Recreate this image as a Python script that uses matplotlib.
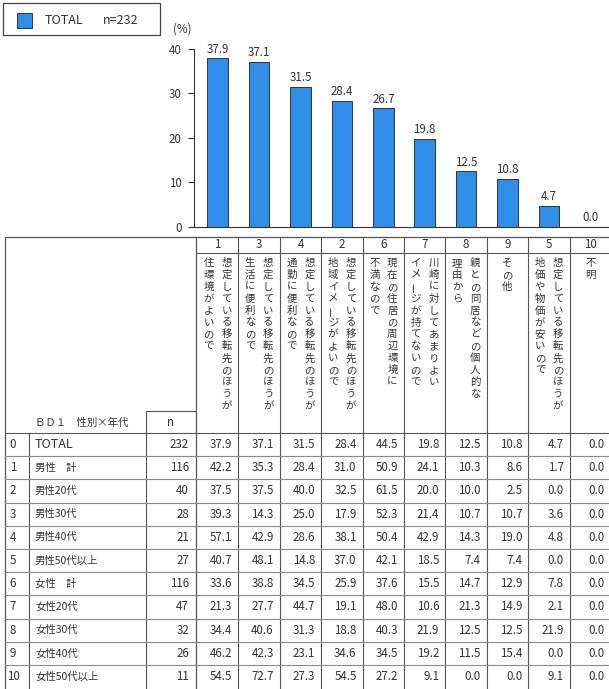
import matplotlib

matplotlib.use("Agg")
import matplotlib.pyplot as plt
from matplotlib.patches import Rectangle

plt.rcParams["font.family"] = ["Noto Sans CJK JP", "DejaVu Sans"]

# choice codes, in ranked order of the TOTAL share
codes = ["1", "3", "4", "2", "6", "7", "8", "9", "5", "10"]
headers = [
    ["想定している移転先のほうが", "住環境がよいので"],
    ["想定している移転先のほうが", "生活に便利なので"],
    ["想定している移転先のほうが", "通勤に便利なので"],
    ["想定している移転先のほうが", "地域イメージがよいので"],
    ["現在の住居の周辺環境に", "不満なので"],
    ["川崎に対してあまりよい", "イメージが持てないので"],
    ["親との同居などの個人的な", "理由から"],
    ["その他"],
    ["想定している移転先のほうが", "地価や物価が安いので"],
    ["不明"],
]
total_pct = [37.9, 37.1, 31.5, 28.4, 26.7, 19.8, 12.5, 10.8, 4.7, 0.0]

groups = ["TOTAL", "男性　計", "男性20代", "男性30代", "男性40代", "男性50代以上",
          "女性　計", "女性20代", "女性30代", "女性40代", "女性50代以上"]
group_n = [232, 116, 40, 28, 21, 27, 116, 47, 32, 26, 11]
group_pct = [
    [37.9, 37.1, 31.5, 28.4, 44.5, 19.8, 12.5, 10.8, 4.7, 0.0],
    [42.2, 35.3, 28.4, 31.0, 50.9, 24.1, 10.3, 8.6, 1.7, 0.0],
    [37.5, 37.5, 40.0, 32.5, 61.5, 20.0, 10.0, 2.5, 0.0, 0.0],
    [39.3, 14.3, 25.0, 17.9, 52.3, 21.4, 10.7, 10.7, 3.6, 0.0],
    [57.1, 42.9, 28.6, 38.1, 50.4, 42.9, 14.3, 19.0, 4.8, 0.0],
    [40.7, 48.1, 14.8, 37.0, 42.1, 18.5, 7.4, 7.4, 0.0, 0.0],
    [33.6, 38.8, 34.5, 25.9, 37.6, 15.5, 14.7, 12.9, 7.8, 0.0],
    [21.3, 27.7, 44.7, 19.1, 48.0, 10.6, 21.3, 14.9, 2.1, 0.0],
    [34.4, 40.6, 31.3, 18.8, 40.3, 21.9, 12.5, 12.5, 21.9, 0.0],
    [46.2, 42.3, 23.1, 34.6, 34.5, 19.2, 11.5, 15.4, 0.0, 0.0],
    [54.5, 72.7, 27.3, 54.5, 27.2, 9.1, 0.0, 0.0, 9.1, 0.0],
]

W, H = 609, 689
BLUE = "#2f8fe8"
INK = "#333333"
FS = 7.5       # Japanese captions
FS_NUM = 8.3   # numbers in the table and on the bars

fig = plt.figure(figsize=(W / 100, H / 100), dpi=100)

# pixel-space layer for the legend box and the table
lay = fig.add_axes([0, 0, 1, 1])
lay.set_xlim(0, W)
lay.set_ylim(H, 0)
lay.axis("off")

col_x0, col_w = 197, 41.4
col_left = [col_x0 + col_w * i for i in range(len(codes))]
col_mid = [x + col_w / 2 for x in col_left]

# bar chart, columns aligned with the table below
ax_left, ax_right = 194, W
ax_bot, ax_top = 227, 49
ax = fig.add_axes([ax_left / W, 1 - ax_bot / H, (ax_right - ax_left) / W, (ax_bot - ax_top) / H])
ax.patch.set_alpha(0)
bars = ax.bar(range(len(codes)), total_pct, width=0.5, color=BLUE,
              edgecolor=INK, linewidth=0.7)
for b, v in zip(bars, total_pct):
    ax.text(b.get_x() + b.get_width() / 2, v + 0.6, f"{v:.1f}", ha="center",
            va="bottom", fontsize=FS_NUM, color=INK, clip_on=False)
ax.set_xlim(-0.5 - (col_x0 - ax_left) / col_w, -0.5 + (ax_right - col_x0) / col_w)
ax.set_ylim(0, 40)
ax.set_yticks([0, 10, 20, 30, 40])
ax.set_xticks([])
ax.tick_params(axis="y", length=4, width=0.8, pad=5, labelsize=FS_NUM, colors=INK)
for s in ["top", "right"]:
    ax.spines[s].set_visible(False)
for s in ["left", "bottom"]:
    ax.spines[s].set_linewidth(0.8)
    ax.spines[s].set_color(INK)
lay.text(182, 29, "(%)", ha="center", va="center", fontsize=FS_NUM, color=INK)

# legend box
lay.add_patch(Rectangle((3, 3), 157, 32, fill=False, edgecolor="#444444", lw=0.9))
lay.add_patch(Rectangle((17, 13), 15, 15, facecolor=BLUE, edgecolor=INK, lw=0.7))
lay.text(45, 21, "TOTAL", va="center", fontsize=9, color=INK)
lay.text(103, 21, "n=232", va="center", fontsize=9, color=INK)

# table grid
dark, light = "#555555", "#8a8a8a"
t_top, num_bot, n_top, rows_top, row_h = 237, 253, 411, 433, 23.2
lay.plot([5, W], [t_top, t_top], color=dark, lw=0.9)
lay.plot([5, 5], [t_top, H], color=dark, lw=0.9)
lay.plot([col_x0 - 1, col_x0 - 1], [t_top, H], color=dark, lw=0.9)
for x in col_left[1:]:
    lay.plot([x, x], [t_top, H], color=dark, lw=0.8)
lay.plot([col_x0 - 1, W], [num_bot, num_bot], color=dark, lw=0.8)
lay.plot([146, 146, col_x0 - 1], [H, n_top, n_top], color=dark, lw=0.8)
lay.plot([29, 29], [rows_top, H], color=dark, lw=0.8)
for k in range(len(groups)):
    y = rows_top + row_h * k
    lay.plot([5, W], [y, y], color=dark if k == 0 else light, lw=0.8)

# column headers: code number and vertical caption
for xm, code, lines in zip(col_mid, codes, headers):
    lay.text(xm, (t_top + num_bot) / 2, code, ha="center", va="center",
             fontsize=FS_NUM, color=INK)
    offsets = [0] if len(lines) == 1 else [9, -9]
    for dx, line in zip(offsets, lines):
        for j, ch in enumerate(line):
            lay.text(xm + dx, 263 + 11.9 * j, ch, ha="center", va="center",
                     fontsize=FS, color=INK,
                     rotation=90 if ch == "ー" else 0)

lay.text(35, 423, "ＢＤ１　性別×年代", va="center", fontsize=FS, color=INK)
lay.text(171, 422, "n", ha="center", va="center", fontsize=FS_NUM, color=INK)

# body rows
for i, (name, n, vals) in enumerate(zip(groups, group_n, group_pct)):
    yc = rows_top + row_h * (i + 0.5)
    lay.text(13, yc, str(i), ha="center", va="center", fontsize=FS_NUM, color=INK)
    lay.text(35, yc, name, va="center", fontsize=9 if name.isascii() else FS, color=INK)
    lay.text(189, yc, str(n), ha="right", va="center", fontsize=FS_NUM, color=INK)
    for xl, v in zip(col_left, vals):
        lay.text(xl + col_w - 6, yc, f"{v:.1f}", ha="right", va="center",
                 fontsize=FS_NUM, color=INK)

fig.savefig("out.png", dpi=100)
